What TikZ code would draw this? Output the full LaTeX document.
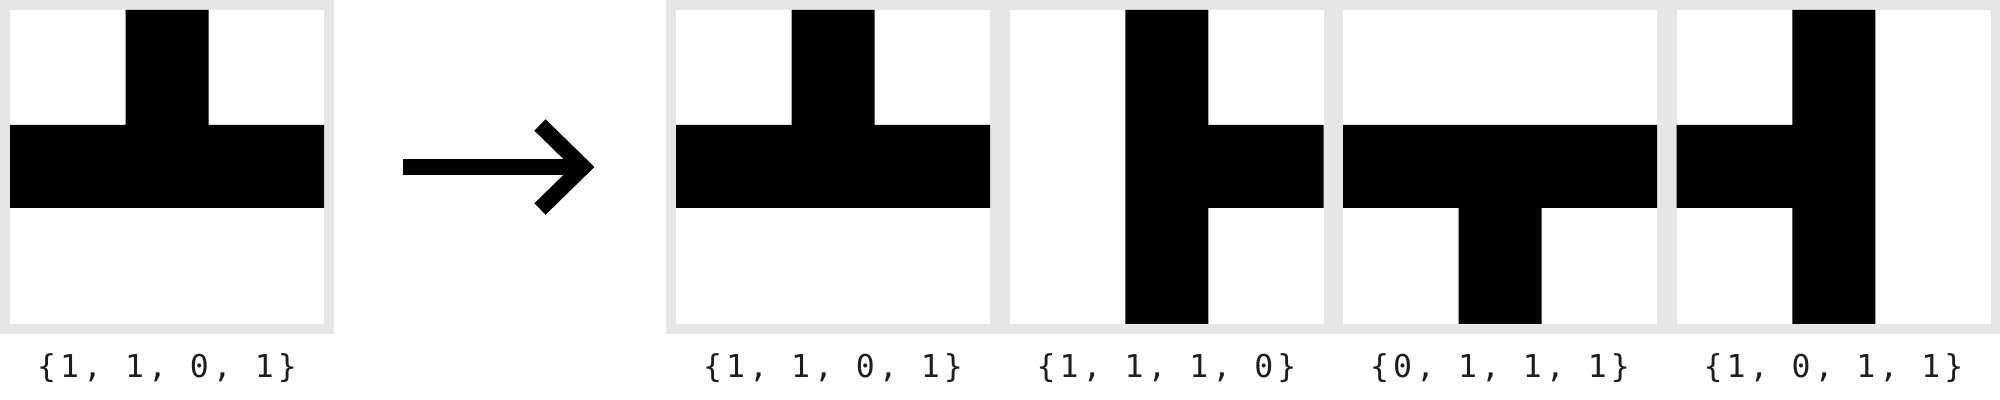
\documentclass[tikz,border=0pt]{standalone}
\usepackage{fontspec}
\newfontfamily\codefont[LetterSpace=12.7]{DejaVu Sans Mono}
\definecolor{ce6e6e6}{RGB}{230,230,230}
\definecolor{c1e1e1e}{RGB}{30,30,30}

\begin{document}
\begin{tikzpicture}[y=0.50pt, x=0.50pt, yscale=-1, inner sep=0pt, outer sep=0pt,
  frame/.style={fill=ce6e6e6},
  cell/.style={fill=white},
  stroke/.style={fill=black},
  code/.style={anchor=base, text=c1e1e1e,
    font=\codefont\fontsize{15.75}{18}\selectfont},
  arrowline/.style={draw=black, line width=8pt, line join=miter, line cap=butt}]
\useasboundingbox (0,0) rectangle (2000,400);
  % input tile
  \path[frame] (0,0) rectangle (334,334);
  \path[cell] (10,10) rectangle (324,324);
  \path[stroke] (125.5,10) -- (208.5,10) -- (208.5,125) -- (324,125) --
    (324,208) -- (10,208) -- (10,125) -- (125.5,125) -- cycle;
  \node[code] (text1) at (167,378) {\{1, 1, 0, 1\}};

  % arrow
  \coordinate (arrowtail) at (403,167);
  \coordinate (arrowtip) at (583,167);
  \draw[arrowline] (arrowtail) -- (arrowtip);
  \draw[arrowline] (arrowtip) ++(-43,-42) -- (arrowtip) -- ++(-43,42);

  % output tiles
  \path[frame] (666,0) rectangle (2000,334);
  \path[cell] (676,10) rectangle (990,324);
  \path[cell] (1009.5,10) rectangle (1323.5,324);
  \path[cell] (1343,10) rectangle (1657,324);
  \path[cell] (1676.5,10) rectangle (1990.5,324);
  \path[stroke] (791.5,10) -- (874.5,10) -- (874.5,125) -- (990,125) --
    (990,208) -- (676,208) -- (676,125) -- (791.5,125) -- cycle;
  \path[stroke] (1125.25,10) -- (1208.25,10) -- (1208.25,125) --
    (1323.5,125) -- (1323.5,208) -- (1208.25,208) -- (1208.25,324) --
    (1125.25,324) -- cycle;
  \path[stroke] (1343,125) -- (1657,125) -- (1657,208) -- (1541.5,208) --
    (1541.5,324) -- (1458.5,324) -- (1458.5,208) -- (1343,208) -- cycle;
  \path[stroke] (1792.25,10) -- (1875.25,10) -- (1875.25,324) --
    (1792.25,324) -- (1792.25,208) -- (1676.5,208) -- (1676.5,125) --
    (1792.25,125) -- cycle;
  \node[code] (text2) at (833,378) {\{1, 1, 0, 1\}};
  \node[code] (text3) at (1166.5,378) {\{1, 1, 1, 0\}};
  \node[code] (text4) at (1500,378) {\{0, 1, 1, 1\}};
  \node[code] (text5) at (1833.5,378) {\{1, 0, 1, 1\}};
\end{tikzpicture}
\end{document}
